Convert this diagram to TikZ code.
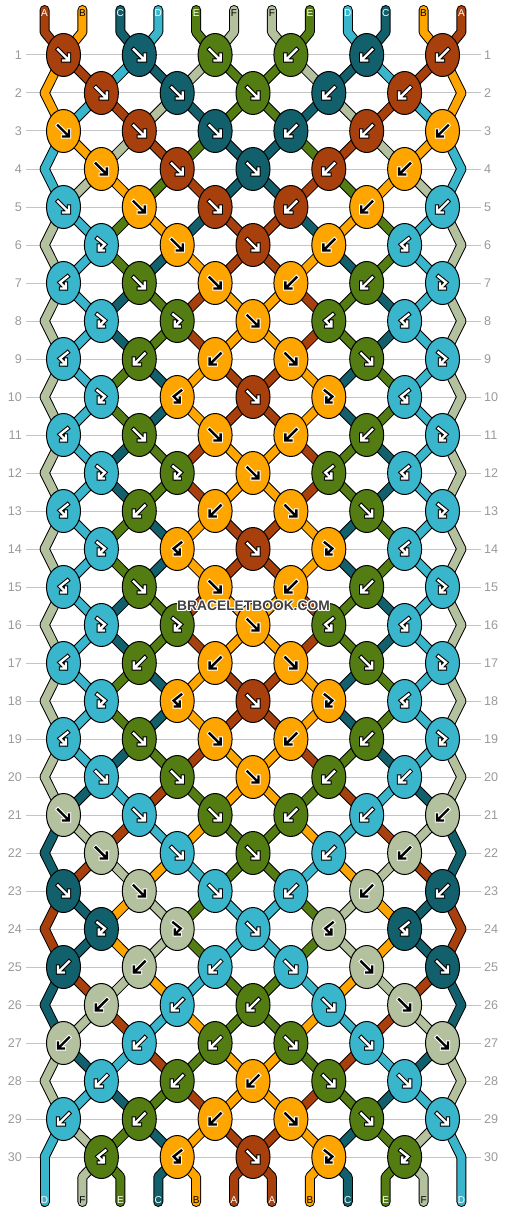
\documentclass[tikz,border=0pt]{standalone}
\usepackage{fontspec}
\setmainfont{Liberation Sans}
\usetikzlibrary{shapes.geometric}
\definecolor{cA}{HTML}{A8400E}
\definecolor{cB}{HTML}{FFA500}
\definecolor{cC}{HTML}{12606C}
\definecolor{cD}{HTML}{3AB6CC}
\definecolor{cE}{HTML}{537C13}
\definecolor{cF}{HTML}{B4C19F}
\definecolor{gridgray}{HTML}{C4C4C4}
\definecolor{numgray}{HTML}{999999}
\definecolor{wmgray}{HTML}{404040}
\def\fgA{white}\def\fgB{black}\def\fgC{white}\def\fgD{white}\def\fgE{white}\def\fgF{black}
\def\bgA{black}\def\bgB{white}\def\bgC{black}\def\bgD{black}\def\bgE{black}\def\bgF{white}
\def\mirF{B}\def\mirB{F}\def\mirR{L}\def\mirL{R}
\tikzset{
  gridline/.style={draw=gridgray, line width=1pt},
  rownum/.style={text=numgray, font=\fontsize{12.6}{14}\selectfont, inner sep=0pt},
  endlabel/.style={font=\fontsize{10}{12}\selectfont, inner sep=0pt},
  strandout/.style={draw=black, line width=10pt, line cap=round, line join=round},
  strandin/.style={draw=c#1, line width=8pt, line cap=round, line join=round},
  knotsty/.style={ellipse, draw=black, line width=1pt, fill=c#1, minimum width=34pt, minimum height=43pt, inner sep=0pt},
  glyphbg/.style={draw=#1, line width=4.4pt, line join=miter, line cap=rect},
  glyphfg/.style={draw=#1, line width=2.4pt, line join=miter, line cap=rect},
}
\newcommand\glF[1]{\draw[#1] (-5.5,-5.5) -- (4.5,4.5) (-0.5,5.5) -- (5.5,5.5) -- (5.5,-0.5);}
\newcommand\glB[1]{\draw[#1] (5.5,-5.5) -- (-4.5,4.5) (0.5,5.5) -- (-5.5,5.5) -- (-5.5,-0.5);}
\newcommand\glR[1]{\draw[#1] (-4,-6.5) -- (3.5,-0.5) -- (-1.8,4.8) (-2.5,0.5) -- (-2.5,5.5) -- (2.5,5.5);}
\newcommand\glL[1]{\draw[#1] (4,-6.5) -- (-3.5,-0.5) -- (1.8,4.8) (2.5,0.5) -- (2.5,5.5) -- (-2.5,5.5);}
\newcommand\strandpass[1]{%
  \foreach \cl [count=\pp from 0] in {A,B,C,D,E,F,F,E,D,C,B,A}{
    \draw[#1=\cl] (T-\pp) -- (TB-\pp) -- (P-1-\pp);
  }
  \foreach \rw/\st in {
    1/{B,A,D,C,F,E}, 2/{B,D,A,F,C,E}, 3/{D,B,F,A,E,C}, 4/{D,F,B,E,A,C},
    5/{F,D,E,B,C,A}, 6/{F,D,E,C,B,A}, 7/{F,D,C,E,A,B}, 8/{F,D,C,E,A,B},
    9/{F,D,E,C,B,A}, 10/{F,D,E,C,B,A}, 11/{F,D,C,E,A,B}, 12/{F,D,C,E,A,B},
    13/{F,D,E,C,B,A}, 14/{F,D,E,C,B,A}, 15/{F,D,C,E,A,B}, 16/{F,D,C,E,A,B},
    17/{F,D,E,C,B,A}, 18/{F,D,E,C,B,A}, 19/{F,D,C,E,A,B}, 20/{F,C,D,A,E,B},
    21/{C,F,A,D,B,E}, 22/{C,A,F,B,D,E}, 23/{A,C,B,F,E,D}, 24/{A,C,B,F,E,D},
    25/{C,A,F,B,D,E}, 26/{C,F,A,D,B,E}, 27/{F,C,D,A,E,B}, 28/{F,D,C,E,A,B},
    29/{D,F,E,C,B,A}}{
    \pgfmathtruncatemacro\rn{\rw+1}
    \foreach \cl [count=\pp from 0] in \st {
      \pgfmathtruncatemacro\qq{11-\pp}
      \draw[#1=\cl] (P-\rw-\pp) -- (P-\rn-\pp);
      \draw[#1=\cl] (P-\rw-\qq) -- (P-\rn-\qq);
    }
  }
  \foreach \cl [count=\pp from 0] in {D,F,E,C,B,A,A,B,C,E,F,D}{
    \draw[#1=\cl] (P-30-\pp) -- (BB-\pp) -- (BE-\pp);
  }
}
\begin{document}
\begin{tikzpicture}[x=1pt,y=-1pt]
\useasboundingbox (0,0) rectangle (506,1212);
% grid lines and row numbers
\foreach \rw in {1,...,30}{
  \pgfmathsetmacro\yy{17+38*\rw}
  \draw[gridline] (26,\yy) -- (481,\yy);
  \node[rownum, anchor=east] (NL-\rw) at (22,\yy) {\rw};
  \node[rownum, anchor=west] (NR-\rw) at (484,\yy) {\rw};
}
% strand end coordinates
\foreach \pp in {0,...,11}{
  \pgfmathsetmacro\xx{44.55+37.9*\pp}
  \coordinate (T-\pp) at (\xx,10);
  \coordinate (TB-\pp) at (\xx,32);
  \coordinate (BB-\pp) at (\xx,1177);
  \coordinate (BE-\pp) at (\xx,1202);
}
% knot position coordinates
\foreach \rw in {1,...,30}{
  \pgfmathsetmacro\yy{17+38*\rw}
  \foreach \pp in {0,...,11}{
    \ifodd\rw\relax
      \pgfmathsetmacro\xx{63.5+75.8*floor(\pp/2)}
    \else
      \ifnum\pp=0 \def\xx{44.55}\else
      \ifnum\pp=11 \def\xx{461.45}\else
      \pgfmathsetmacro\xx{25.6+75.8*floor((\pp+1)/2)}\fi\fi
    \fi
    \coordinate (P-\rw-\pp) at (\xx,\yy);
  }
}
% strands: outline pass, then colour pass
\strandpass{strandout}
\strandpass{strandin}
% end labels
\foreach \cl [count=\pp from 0] in {A,B,C,D,E,F,F,E,D,C,B,A}{
  \pgfmathsetmacro\xx{44.55+37.9*\pp}
  \edef\tc{\csname fg\cl\endcsname}
  \node[endlabel, text=\tc] (LT-\pp) at (\xx,13) {\cl};
}
\foreach \cl [count=\pp from 0] in {D,F,E,C,B,A,A,B,C,E,F,D}{
  \pgfmathsetmacro\xx{44.55+37.9*\pp}
  \edef\tc{\csname fg\cl\endcsname}
  \node[endlabel, text=\tc] (LB-\pp) at (\xx,1200) {\cl};
}
% knots
\foreach \rw/\kk in {
  1/{A/F,C/F,E/F}, 2/{A/F,C/F,E/F}, 3/{B/F,A/F,C/F}, 4/{B/F,A/F,C/F},
  5/{D/F,B/F,A/F}, 6/{D/R,B/F,A/F}, 7/{D/L,E/F,B/F}, 8/{D/R,E/R,B/F},
  9/{D/L,E/B,B/B}, 10/{D/R,B/L,A/F}, 11/{D/L,E/F,B/F}, 12/{D/R,E/R,B/F},
  13/{D/L,E/B,B/B}, 14/{D/R,B/L,A/F}, 15/{D/L,E/F,B/F}, 16/{D/R,E/R,B/F},
  17/{D/L,E/B,B/B}, 18/{D/R,B/L,A/F}, 19/{D/L,E/F,B/F}, 20/{D/F,E/F,B/F},
  21/{F/F,D/F,E/F}, 22/{F/F,D/F,E/F}, 23/{C/F,F/F,D/F}, 24/{C/R,F/R,D/F},
  25/{C/B,F/B,D/B}, 26/{F/B,D/B,E/B}, 27/{F/B,D/B,E/B}, 28/{D/B,E/B,B/B},
  29/{D/B,E/B,B/B}, 30/{E/L,B/L,A/F}}{
  \pgfmathsetmacro\yy{17+38*\rw}
  \foreach \cl/\ty [count=\jj from 0] in \kk {
    \ifodd\rw\relax
      \pgfmathsetmacro\xl{63.5+75.8*\jj}
      \pgfmathsetmacro\xr{442.5-75.8*\jj}
      \def\dor{1}
    \else
      \pgfmathsetmacro\xl{101.4+75.8*\jj}
      \pgfmathsetmacro\xr{404.6-75.8*\jj}
      \ifnum\jj=2 \def\dor{0}\else\def\dor{1}\fi
    \fi
    \edef\fgc{\csname fg\cl\endcsname}
    \edef\bgc{\csname bg\cl\endcsname}
    \edef\mty{\csname mir\ty\endcsname}
    \node[knotsty=\cl] (K-\rw-L\jj) at (\xl,\yy) {};
    \begin{scope}[shift={(\xl,\yy)}]
      \csname gl\ty\endcsname{glyphbg=\bgc}
      \csname gl\ty\endcsname{glyphfg=\fgc}
    \end{scope}
    \ifnum\dor=1
      \node[knotsty=\cl] (K-\rw-R\jj) at (\xr,\yy) {};
      \begin{scope}[shift={(\xr,\yy)}]
        \csname gl\mty\endcsname{glyphbg=\bgc}
        \csname gl\mty\endcsname{glyphfg=\fgc}
      \end{scope}
    \fi
  }
}
% watermark
\foreach \dx/\dy [count=\ii] in {-1.2/0,1.2/0,0/-1.2,0/1.2,-0.9/-0.9,0.9/-0.9,-0.9/0.9,0.9/0.9}{
  \node[font=\bfseries\fontsize{13.8}{16}\selectfont, text=white, inner sep=0pt] (WH-\ii) at (253.5+\dx,606+\dy) {BRACELETBOOK.COM};
}
\node[font=\bfseries\fontsize{13.8}{16}\selectfont, text=wmgray, inner sep=0pt] (WM) at (253.5,606) {BRACELETBOOK.COM};
\end{tikzpicture}
\end{document}
